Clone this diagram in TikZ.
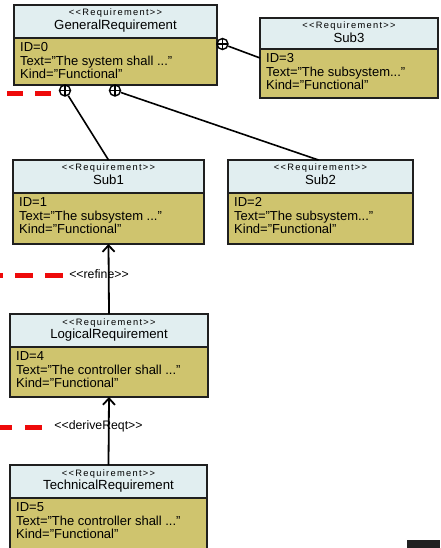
\documentclass[tikz,border=0pt]{standalone}
\usepackage{fontspec}
\setmainfont{Liberation Sans}
\newfontfamily\stereofont[LetterSpace=14]{Liberation Sans}
\usetikzlibrary{arrows.meta}
\definecolor{headfill}{RGB}{225,238,240}
\definecolor{bodyfill}{RGB}{207,196,110}
\definecolor{traceRed}{RGB}{238,10,10}

% one requirement block: #1 name, #2 north-west corner, #3 width,
% #4 header height, #5 body height, #6 title, #7 attribute lines
\newcommand\reqblock[7]{%
  \node[reqhead, minimum width=#3, minimum height=#4] (#1-head) at #2 {};
  \node[reqbody, minimum width=#3, minimum height=#5] (#1) at (#1-head.south west) {};
  \node[stereo] (#1-st) at ([yshift=-11pt]#1-head.north) {<{}<Requirement>{}>};
  \node[reqname] (#1-nm) at ([yshift=-24.5pt]#1-head.north) {#6};
  \node[attrs] (#1-at) at ([xshift=6pt,yshift=-4.5pt]#1.north west) {#7};
}

\begin{document}
\begin{tikzpicture}[x=1pt,y=-1pt,
  reqhead/.style={draw=black!88, line width=2pt, fill=headfill, inner sep=0pt, outer sep=0pt, anchor=north west},
  reqbody/.style={draw=black!88, line width=2pt, fill=bodyfill, inner sep=0pt, outer sep=0pt, anchor=north west},
  stereo/.style={font=\stereofont\fontsize{9.3}{10}\selectfont, anchor=base, inner sep=0pt},
  reqname/.style={font=\fontsize{13.2}{14}\selectfont, anchor=base, inner sep=0pt},
  attrs/.style={font=\fontsize{13}{13.6}\selectfont, align=left, anchor=north west, inner sep=0pt},
  owns/.style={draw, circle, line width=1.4pt, minimum size=11pt, inner sep=0pt, fill=white,
    path picture={\draw[line width=1.4pt] (path picture bounding box.north) -- (path picture bounding box.south)
      (path picture bounding box.west) -- (path picture bounding box.east);}},
  link/.style={line width=1.6pt},
  trace/.style={-{Straight Barb[length=6.5pt,width=12pt,line width=1.8pt]}, line width=1.8pt},
  tracelabel/.style={font=\fontsize{12.3}{13}\selectfont, inner sep=0pt},
  reddash/.style={draw=traceRed, line width=5pt}
]
\useasboundingbox (0,0) rectangle (440,548);
\clip (0,0) rectangle (440,548);

% requirement blocks
\reqblock{gen}{(14,5)}{203pt}{33pt}{47pt}{GeneralRequirement}
  {ID=0\\Text="The system shall ..."\\Kind="Functional"}
\reqblock{sub3}{(260,18)}{178pt}{31pt}{49pt}{Sub3}
  {ID=3\\Text="The subsystem..."\\Kind="Functional"}
\reqblock{sub1}{(13,160)}{191pt}{33pt}{51pt}{Sub1}
  {ID=1\\Text="The subsystem ..."\\Kind="Functional"}
\reqblock{sub2}{(228,160)}{185pt}{33pt}{51pt}{Sub2}
  {ID=2\\Text="The subsystem..."\\Kind="Functional"}
\reqblock{logic}{(10,314)}{198pt}{33pt}{50pt}{LogicalRequirement}
  {ID=4\\Text="The controller shall ..."\\Kind="Functional"}
\reqblock{tech}{(10,465)}{197pt}{33pt}{60pt}{TechnicalRequirement}
  {ID=5\\Text="The controller shall ..."\\Kind="Functional"}

% containment (crosshair ends at the parent)
\node[owns] (own3) at ([xshift=5.5pt,yshift=-6pt]gen.north east) {};
\node[owns] (own1) at ([xshift=51pt,yshift=-5.5pt]gen.south west) {};
\node[owns] (own2) at ([xshift=101pt,yshift=-5.5pt]gen.south west) {};
\coordinate (sub3-in) at ([yshift=-9pt]sub3.north west);
\coordinate (sub2-in) at ([xshift=-2pt]sub2-head.north);
\draw[link] (own3) -- (sub3-in);
\draw[link] (own1) -- (sub1-head.north);
\draw[link] (own2) -- (sub2-in);

% refine / deriveReqt dependencies
\node[tracelabel] (refine-lbl) at (99,274) {<{}<refine>{}>};
\node[tracelabel] (derive-lbl) at (98.5,426) {<{}<deriveReqt>{}>};
\draw[trace] (logic-head.north) -- (sub1.south);
\draw[trace] (tech-head.north) -- (logic.south);

% red dashed traces entering from the left
\draw[reddash, dash pattern=on 16pt off 12pt] (7,94) -- (52,94);
\draw[reddash, dash pattern=on 18pt off 12pt] (-15,275) -- (63,275);
\draw[reddash, dash pattern=on 17pt off 13pt] (-5,427) -- (42,427);

% dark block at the lower right edge
\fill[black!87] (407,540) rectangle (440,548);
\end{tikzpicture}
\end{document}
